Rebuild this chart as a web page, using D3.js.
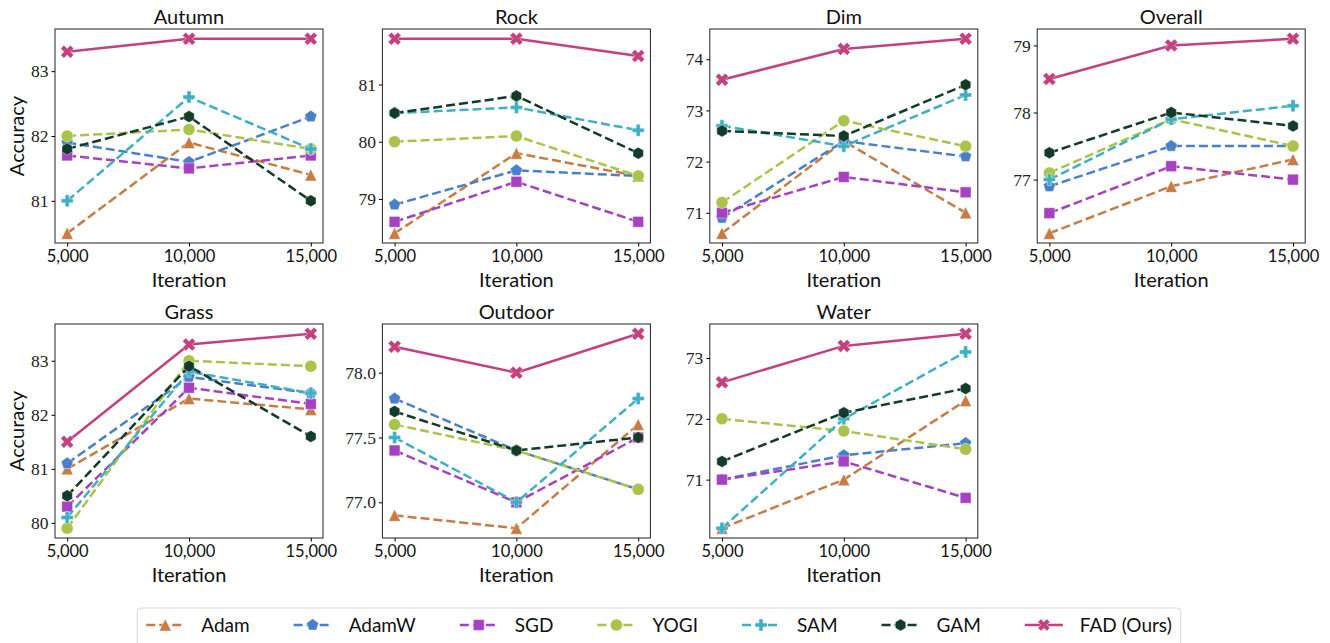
<!DOCTYPE html>
<html>
<head>
<meta charset="utf-8">
<script src="https://cdn.jsdelivr.net/npm/d3@7"></script>
<style>
  body { margin: 0; background: #fff; }
  .sans { font-family: Lato, "Open Sans", sans-serif; fill: #111; }
  .serif { font-family: "Liberation Serif", serif; fill: #222; }
</style>
</head>
<body>
<div id="chart"></div>
<script>
const ITERATIONS = [5000, 10000, 15000];
const METHODS = ["Adam", "AdamW", "SGD", "YOGI", "SAM", "GAM", "FAD (Ours)"];
const COLORS = ["#c97b44", "#4a80c9", "#a741c4", "#aac34a", "#3db0c3", "#123b29", "#c4417f"];
const MARKERS = ["triangle", "pentagon", "square", "circle", "plus", "hexagon", "x"];

// one row per method (same order as METHODS), one value per iteration
const autumn = [
  [80.5, 81.9, 81.4],
  [81.9, 81.6, 82.3],
  [81.7, 81.5, 81.7],
  [82.0, 82.1, 81.8],
  [81.0, 82.6, 81.8],
  [81.8, 82.3, 81.0],
  [83.3, 83.5, 83.5]
];
const rock = [
  [78.4, 79.8, 79.4],
  [78.9, 79.5, 79.4],
  [78.6, 79.3, 78.6],
  [80.0, 80.1, 79.4],
  [80.5, 80.6, 80.2],
  [80.5, 80.8, 79.8],
  [81.8, 81.8, 81.5]
];
const dim = [
  [70.6, 72.4, 71.0],
  [70.9, 72.4, 72.1],
  [71.0, 71.7, 71.4],
  [71.2, 72.8, 72.3],
  [72.7, 72.3, 73.3],
  [72.6, 72.5, 73.5],
  [73.6, 74.2, 74.4]
];
const overall = [
  [76.2, 76.9, 77.3],
  [76.9, 77.5, 77.5],
  [76.5, 77.2, 77.0],
  [77.1, 77.9, 77.5],
  [77.0, 77.9, 78.1],
  [77.4, 78.0, 77.8],
  [78.5, 79.0, 79.1]
];
const grass = [
  [81.0, 82.3, 82.1],
  [81.1, 82.7, 82.4],
  [80.3, 82.5, 82.2],
  [79.9, 83.0, 82.9],
  [80.1, 82.8, 82.4],
  [80.5, 82.9, 81.6],
  [81.5, 83.3, 83.5]
];
const outdoor = [
  [76.9, 76.8, 77.6],
  [77.8, 77.4, 77.1],
  [77.4, 77.0, 77.5],
  [77.6, 77.4, 77.1],
  [77.5, 77.0, 77.8],
  [77.7, 77.4, 77.5],
  [78.2, 78.0, 78.3]
];
const water = [
  [70.2, 71.0, 72.3],
  [71.0, 71.4, 71.6],
  [71.0, 71.3, 70.7],
  [72.0, 71.8, 71.5],
  [70.2, 72.0, 73.1],
  [71.3, 72.1, 72.5],
  [72.6, 73.2, 73.4]
];

const PANEL_TITLES = ["Autumn", "Rock", "Dim", "Overall", "Grass", "Outdoor", "Water"];
const PANEL_DATA = [autumn, rock, dim, overall, grass, outdoor, water];
const Y_TICKS = [
  [81, 82, 83],
  [79, 80, 81],
  [71, 72, 73, 74],
  [77, 78, 79],
  [80, 81, 82, 83],
  [77.0, 77.5, 78.0],
  [71, 72, 73]
];

const W = 1330, H = 643;
const panelW = 268, panelH = 214;
const colStep = 327.4;
const rowTops = [29, 324];
const firstLeft = 55;

const svg = d3.select("#chart").append("svg")
  .attr("width", W)
  .attr("height", H);

// marker shapes, sized like matplotlib markers (extent = ms)
function markerPath(type, ms) {
  const r = ms / 2;
  const poly = pts => "M" + pts.map(p => p[0].toFixed(2) + "," + p[1].toFixed(2)).join("L") + "Z";
  const regular = (n, rad) => d3.range(n).map(i => {
    const a = -Math.PI / 2 + i * 2 * Math.PI / n;
    return [rad * Math.cos(a), rad * Math.sin(a)];
  });
  switch (type) {
    case "triangle": return poly([[0, -r], [r, r], [-r, r]]);
    case "pentagon": return poly(regular(5, r * 1.05));
    case "square": return poly([[-r * 0.9, -r * 0.9], [r * 0.9, -r * 0.9], [r * 0.9, r * 0.9], [-r * 0.9, r * 0.9]]);
    case "circle": return d3.symbol(d3.symbolCircle, Math.PI * r * r)();
    case "hexagon": return poly(regular(6, r));
    case "plus": {
      const s = ms / 6;
      return poly([[-1, -3], [-1, -1], [-3, -1], [-3, 1], [-1, 1], [-1, 3], [1, 3], [1, 1], [3, 1], [3, -1], [1, -1], [1, -3]].map(p => [p[0] * s, p[1] * s]));
    }
    case "x": {
      const s = ms / 4;
      return poly([[-1, -2], [0, -1], [1, -2], [2, -1], [1, 0], [2, 1], [1, 2], [0, 1], [-1, 2], [-2, 1], [-1, 0], [-2, -1]].map(p => [p[0] * s, p[1] * s]));
    }
  }
}

const MS = 12;
const DASH = "9,4";

PANEL_DATA.forEach((data, p) => {
  const col = p % 4, row = Math.floor(p / 4);
  const left = firstLeft + col * colStep;
  const top = rowTops[row];

  const all = data.flat();
  const lo = d3.min(all), hi = d3.max(all), pad = (hi - lo) * 0.05;

  const x = d3.scaleLinear()
    .domain([ITERATIONS[0] - 500, ITERATIONS[2] + 500])
    .range([left, left + panelW]);
  const y = d3.scaleLinear()
    .domain([lo - pad, hi + pad])
    .range([top + panelH, top]);

  const g = svg.append("g");

  // series: line then markers, in order so FAD sits on top
  data.forEach((vals, m) => {
    const pts = vals.map((v, i) => [x(ITERATIONS[i]), y(v)]);
    g.append("path")
      .attr("d", d3.line()(pts))
      .attr("fill", "none")
      .attr("stroke", COLORS[m])
      .attr("stroke-width", 2.5)
      .attr("stroke-dasharray", m === 6 ? null : DASH);
    g.selectAll(null)
      .data(pts)
      .enter().append("path")
      .attr("transform", d => `translate(${d[0]},${d[1]})`)
      .attr("d", markerPath(MARKERS[m], m === 6 ? MS + 1 : MS))
      .attr("fill", COLORS[m])
      .attr("stroke", "#fff")
      .attr("stroke-opacity", 0.7)
      .attr("stroke-width", 0.6);
  });

  // frame
  g.append("rect")
    .attr("x", left).attr("y", top)
    .attr("width", panelW).attr("height", panelH)
    .attr("fill", "none")
    .attr("stroke", "#222")
    .attr("stroke-width", 1);

  // axes
  const yAxis = g.append("g")
    .attr("transform", `translate(${left},0)`)
    .call(d3.axisLeft(y).tickValues(Y_TICKS[p]).tickSize(3.5).tickPadding(3)
      .tickFormat(Y_TICKS[p].some(t => t % 1) ? d3.format(".1f") : d3.format("d")));
  yAxis.select(".domain").remove();
  yAxis.selectAll("text").attr("class", "serif").style("font-size", "17.5px");

  const xAxis = g.append("g")
    .attr("transform", `translate(0,${top + panelH})`)
    .call(d3.axisBottom(x).tickValues(ITERATIONS).tickSize(3.5).tickPadding(4).tickFormat(d3.format(",")));
  xAxis.select(".domain").remove();
  xAxis.selectAll("text").attr("class", "sans").style("font-size", "16.5px");

  // labels
  g.append("text")
    .attr("class", "sans")
    .attr("x", left + panelW / 2).attr("y", top - 5)
    .attr("text-anchor", "middle")
    .style("font-size", "20px")
    .text(PANEL_TITLES[p]);

  g.append("text")
    .attr("class", "sans")
    .attr("x", left + panelW / 2).attr("y", top + panelH + 44)
    .attr("text-anchor", "middle")
    .style("font-size", "20px")
    .text("Iteration");

  if (col === 0) {
    g.append("text")
      .attr("class", "sans")
      .attr("transform", `translate(24,${top + panelH / 2}) rotate(-90)`)
      .attr("text-anchor", "middle")
      .style("font-size", "20px")
      .text("Accuracy");
  }
});

////////////////////////////////////////////////////////////
////////////////////// Legend //////////////////////////////
////////////////////////////////////////////////////////////

const handleLen = 38, textPad = 17, colGap = 44, legendY = 625;
const legend = svg.append("g");
const box = legend.append("rect");

const items = legend.selectAll("g.item")
  .data(METHODS)
  .enter().append("g")
  .attr("class", "item");

items.append("text")
  .attr("class", "sans")
  .attr("y", legendY)
  .attr("dy", "0.35em")
  .style("font-size", "19px")
  .text(d => d);

const widths = [];
items.select("text").each(function () { widths.push(this.getComputedTextLength()); });
const total = d3.sum(widths) + METHODS.length * (handleLen + textPad) + (METHODS.length - 1) * colGap;
let cursor = 659 - total / 2;

items.each(function (d, i) {
  const it = d3.select(this);
  const x0 = cursor;
  it.insert("line", "text")
    .attr("x1", x0).attr("x2", x0 + handleLen)
    .attr("y1", legendY).attr("y2", legendY)
    .attr("stroke", COLORS[i])
    .attr("stroke-width", 2.5)
    .attr("stroke-dasharray", i === 6 ? null : DASH);
  it.insert("path", "text")
    .attr("transform", `translate(${x0 + handleLen / 2},${legendY})`)
    .attr("d", markerPath(MARKERS[i], MS))
    .attr("fill", COLORS[i])
    .attr("stroke", "#fff")
    .attr("stroke-opacity", 0.7)
    .attr("stroke-width", 0.6);
  it.select("text").attr("x", x0 + handleLen + textPad);
  cursor += handleLen + textPad + widths[i] + colGap;
});

const boxLeft = 659 - total / 2 - 9;
box.attr("x", boxLeft).attr("y", 608)
  .attr("width", total + 18).attr("height", 50)
  .attr("rx", 4)
  .attr("fill", "#fff")
  .attr("stroke", "#d6d6d6")
  .attr("stroke-width", 1);
</script>
</body>
</html>
